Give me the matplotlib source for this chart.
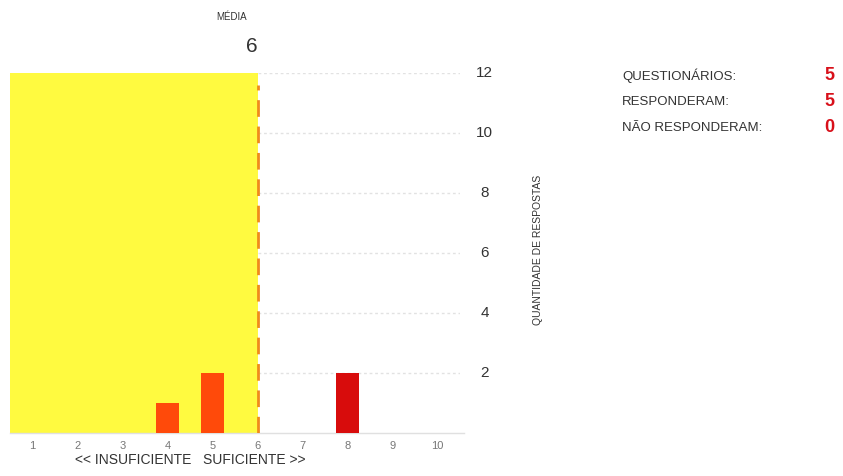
import numpy as np
import matplotlib.pyplot as plt

# Notas (1 a 10) e quantidade de respostas
notas = np.arange(1, 11)
respostas = np.array([0, 0, 0, 1, 2, 0, 0, 2, 0, 0])
cores = ["#ff4a0a"] * 5 + ["#d80c0c"] * 5
media = 6
yticks = [2, 4, 6, 8, 10, 12]

resumo_labels = ["QUESTIONÁRIOS:", "RESPONDERAM:", "NÃO RESPONDERAM:"]
resumo_valores = [5, 5, 0]

plt.rcParams['font.family'] = ['Liberation Sans', 'DejaVu Sans']

fig = plt.figure(figsize=(8.43, 4.76), dpi=100)
ax = fig.add_axes([10 / 843, 43 / 476, 450 / 843, 360 / 476])

ax.set_xlim(0.5, 10.5)
ax.set_ylim(0, 12)

# faixa insuficiente
ax.axvspan(0.5, media, color="#fffa40", zorder=0, lw=0)

# grade pontilhada à direita da média
ax.hlines(yticks, media, 10.5, colors="#e2e2e2", linestyles=(0, (2, 2)), lw=1, zorder=1)

ax.bar(notas, respostas, width=0.5, color=cores, zorder=3)

# linha da média
ax.vlines(media, 0, 11.6, color="#f08a1c", lw=2, linestyle=(0, (6, 3.5)), zorder=4)

ax.axhline(0, color="#e0e0e0", lw=1, xmax=1.01, clip_on=False)

for s in ax.spines.values():
    s.set_visible(False)
ax.set_xticks(notas)
ax.set_xticklabels([str(n) for n in notas], fontsize=8, color="#777777")
ax.tick_params(axis="x", length=0, pad=6)
ax.set_yticks([])

for v in yticks:
    ax.text(11.05, v, str(v), fontsize=11, color="#333333", va="center", ha="center")

ax.set_xlabel("<< INSUFICIENTE   SUFICIENTE >>", fontsize=10, color="#333333", labelpad=1, x=0.4)

fig.text(538 / 843, 1 - 250 / 476, "QUANTIDADE DE RESPOSTAS", rotation=90,
         fontsize=7.5, color="#333333", ha="center", va="center")

fig.text(232 / 843, 1 - 17 / 476, "MÉDIA", fontsize=7, color="#333333", ha="center", va="center")
fig.text(252 / 843, 1 - 47 / 476, str(media), fontsize=15, color="#333333", ha="center", va="center")

for i, (lab, val) in enumerate(zip(resumo_labels, resumo_valores)):
    y = 1 - (76 + 26 * i) / 476
    fig.text(622 / 843, y, lab, fontsize=9.5, color="#333333", va="center")
    fig.text(829 / 843, y, str(val), fontsize=13, color="#d8101a", fontweight="bold",
             va="center", ha="center")

fig.savefig("out.png", dpi=100)
